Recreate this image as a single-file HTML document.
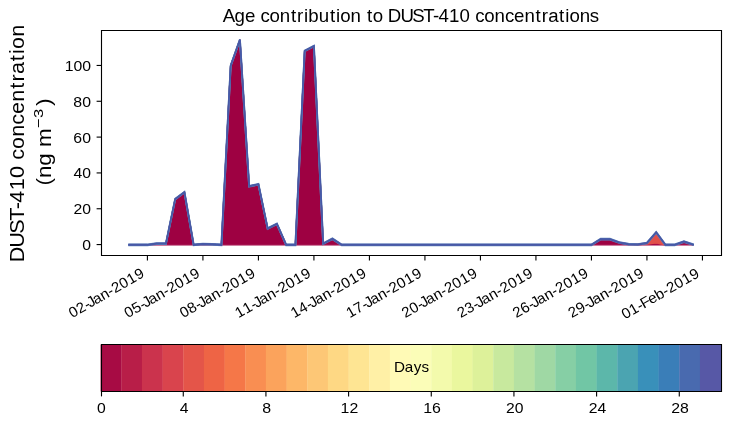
<!DOCTYPE html>
<html><head><meta charset="utf-8"><style>
html,body{margin:0;padding:0;background:#fff;}
body{width:730px;height:425px;overflow:hidden;position:relative;}
svg{position:absolute;left:0;top:0;will-change:transform;}
text{font-family:"Liberation Sans",sans-serif;fill:#000;}
</style></head><body>
<svg width="730" height="425" viewBox="0 0 730 425">
<rect width="730" height="425" fill="#fff"/>
<polygon points="128.91,244.87 138.16,244.87 147.41,244.87 156.66,243.62 165.91,243.62 175.17,199.20 184.42,192.21 193.67,244.87 202.92,243.97 212.17,244.33 221.42,244.87 230.67,65.76 239.92,39.79 249.17,186.30 258.42,184.33 267.67,228.57 276.92,223.91 286.17,244.87 295.42,244.87 304.67,50.89 313.92,46.06 323.17,243.71 332.42,238.78 341.67,244.87 350.92,244.87 360.17,244.87 369.42,244.87 378.67,244.87 387.92,244.87 397.17,244.87 406.43,244.87 415.68,244.87 424.93,244.87 434.18,244.87 443.43,244.87 452.68,244.87 461.93,244.87 471.18,244.87 480.43,244.87 489.68,244.87 498.93,244.87 508.18,244.87 517.43,244.87 526.68,244.87 535.93,244.87 545.18,244.87 554.43,244.87 563.68,244.87 572.93,244.87 582.18,244.87 591.43,244.87 600.68,239.14 609.93,239.14 619.18,242.54 628.43,244.15 637.69,244.51 646.94,243.97 656.19,243.26 665.44,244.87 674.69,244.87 683.94,241.65 693.19,244.87 693.19,244.87 683.94,244.87 674.69,244.87 665.44,244.87 656.19,244.87 646.94,244.87 637.69,244.87 628.43,244.87 619.18,244.87 609.93,244.87 600.68,244.87 591.43,244.87 582.18,244.87 572.93,244.87 563.68,244.87 554.43,244.87 545.18,244.87 535.93,244.87 526.68,244.87 517.43,244.87 508.18,244.87 498.93,244.87 489.68,244.87 480.43,244.87 471.18,244.87 461.93,244.87 452.68,244.87 443.43,244.87 434.18,244.87 424.93,244.87 415.68,244.87 406.43,244.87 397.17,244.87 387.92,244.87 378.67,244.87 369.42,244.87 360.17,244.87 350.92,244.87 341.67,244.87 332.42,244.87 323.17,244.87 313.92,244.87 304.67,244.87 295.42,244.87 286.17,244.87 276.92,244.87 267.67,244.87 258.42,244.87 249.17,244.87 239.92,244.87 230.67,244.87 221.42,244.87 212.17,244.87 202.92,244.87 193.67,244.87 184.42,244.87 175.17,244.87 165.91,244.87 156.66,244.87 147.41,244.87 138.16,244.87 128.91,244.87" fill="#9e0142" stroke="#9e0142" stroke-width="1.39"/>
<polygon points="128.91,244.87 138.16,244.87 147.41,244.87 156.66,243.62 165.91,243.62 175.17,199.20 184.42,192.21 193.67,244.87 202.92,243.97 212.17,244.33 221.42,244.87 230.67,65.76 239.92,39.79 249.17,186.30 258.42,184.33 267.67,228.57 276.92,223.91 286.17,244.87 295.42,244.87 304.67,50.89 313.92,46.06 323.17,243.71 332.42,238.78 341.67,244.87 350.92,244.87 360.17,244.87 369.42,244.87 378.67,244.87 387.92,244.87 397.17,244.87 406.43,244.87 415.68,244.87 424.93,244.87 434.18,244.87 443.43,244.87 452.68,244.87 461.93,244.87 471.18,244.87 480.43,244.87 489.68,244.87 498.93,244.87 508.18,244.87 517.43,244.87 526.68,244.87 535.93,244.87 545.18,244.87 554.43,244.87 563.68,244.87 572.93,244.87 582.18,244.87 591.43,244.87 600.68,239.14 609.93,239.14 619.18,242.54 628.43,244.15 637.69,244.51 646.94,243.97 656.19,242.72 665.44,244.87 674.69,244.87 683.94,241.65 693.19,244.87 693.19,244.87 683.94,241.65 674.69,244.87 665.44,244.87 656.19,243.26 646.94,243.97 637.69,244.51 628.43,244.15 619.18,242.54 609.93,239.14 600.68,239.14 591.43,244.87 582.18,244.87 572.93,244.87 563.68,244.87 554.43,244.87 545.18,244.87 535.93,244.87 526.68,244.87 517.43,244.87 508.18,244.87 498.93,244.87 489.68,244.87 480.43,244.87 471.18,244.87 461.93,244.87 452.68,244.87 443.43,244.87 434.18,244.87 424.93,244.87 415.68,244.87 406.43,244.87 397.17,244.87 387.92,244.87 378.67,244.87 369.42,244.87 360.17,244.87 350.92,244.87 341.67,244.87 332.42,238.78 323.17,243.71 313.92,46.06 304.67,50.89 295.42,244.87 286.17,244.87 276.92,223.91 267.67,228.57 258.42,184.33 249.17,186.30 239.92,39.79 230.67,65.76 221.42,244.87 212.17,244.33 202.92,243.97 193.67,244.87 184.42,192.21 175.17,199.20 165.91,243.62 156.66,243.62 147.41,244.87 138.16,244.87 128.91,244.87" fill="#c42b4b" stroke="#c42b4b" stroke-width="1.39"/>
<polygon points="128.91,244.87 138.16,244.87 147.41,244.87 156.66,243.62 165.91,243.62 175.17,199.20 184.42,192.21 193.67,244.87 202.92,243.97 212.17,244.33 221.42,244.87 230.67,65.76 239.92,39.79 249.17,186.30 258.42,184.33 267.67,228.57 276.92,223.91 286.17,244.87 295.42,244.87 304.67,50.89 313.92,46.06 323.17,243.71 332.42,238.78 341.67,244.87 350.92,244.87 360.17,244.87 369.42,244.87 378.67,244.87 387.92,244.87 397.17,244.87 406.43,244.87 415.68,244.87 424.93,244.87 434.18,244.87 443.43,244.87 452.68,244.87 461.93,244.87 471.18,244.87 480.43,244.87 489.68,244.87 498.93,244.87 508.18,244.87 517.43,244.87 526.68,244.87 535.93,244.87 545.18,244.87 554.43,244.87 563.68,244.87 572.93,244.87 582.18,244.87 591.43,244.87 600.68,239.14 609.93,239.14 619.18,242.54 628.43,244.15 637.69,244.51 646.94,243.08 656.19,232.33 665.44,244.87 674.69,244.87 683.94,241.65 693.19,244.87 693.19,244.87 683.94,241.65 674.69,244.87 665.44,244.87 656.19,242.72 646.94,243.97 637.69,244.51 628.43,244.15 619.18,242.54 609.93,239.14 600.68,239.14 591.43,244.87 582.18,244.87 572.93,244.87 563.68,244.87 554.43,244.87 545.18,244.87 535.93,244.87 526.68,244.87 517.43,244.87 508.18,244.87 498.93,244.87 489.68,244.87 480.43,244.87 471.18,244.87 461.93,244.87 452.68,244.87 443.43,244.87 434.18,244.87 424.93,244.87 415.68,244.87 406.43,244.87 397.17,244.87 387.92,244.87 378.67,244.87 369.42,244.87 360.17,244.87 350.92,244.87 341.67,244.87 332.42,238.78 323.17,243.71 313.92,46.06 304.67,50.89 295.42,244.87 286.17,244.87 276.92,223.91 267.67,228.57 258.42,184.33 249.17,186.30 239.92,39.79 230.67,65.76 221.42,244.87 212.17,244.33 202.92,243.97 193.67,244.87 184.42,192.21 175.17,199.20 165.91,243.62 156.66,243.62 147.41,244.87 138.16,244.87 128.91,244.87" fill="#e1504a" stroke="#e1504a" stroke-width="1.39"/>
<g fill="none" stroke="#5f86bd" stroke-width="1.9"><polyline transform="translate(0 -0.35)" points="128.31,244.87 138.16,244.87 147.41,244.87 156.66,243.62 165.91,243.62 175.17,199.20 184.42,192.21 193.67,244.87 202.92,243.97 212.17,244.33 221.42,244.87 230.67,65.76 239.92,39.79 249.17,186.30 258.42,184.33 267.67,228.57 276.92,223.91 286.17,244.87 295.42,244.87 304.67,50.89 313.92,46.06 323.17,243.71 332.42,238.78 341.67,244.87 350.92,244.87 360.17,244.87 369.42,244.87 378.67,244.87 387.92,244.87 397.17,244.87 406.43,244.87 415.68,244.87 424.93,244.87 434.18,244.87 443.43,244.87 452.68,244.87 461.93,244.87 471.18,244.87 480.43,244.87 489.68,244.87 498.93,244.87 508.18,244.87 517.43,244.87 526.68,244.87 535.93,244.87 545.18,244.87 554.43,244.87 563.68,244.87 572.93,244.87 582.18,244.87 591.43,244.87 600.68,239.14 609.93,239.14 619.18,242.54 628.43,244.15 637.69,244.51 646.94,243.08 656.19,232.33 665.44,244.87 674.69,244.87 683.94,241.65 693.79,244.87"/><polyline transform="translate(0 0.35)" points="128.31,244.87 138.16,244.87 147.41,244.87 156.66,243.62 165.91,243.62 175.17,199.20 184.42,192.21 193.67,244.87 202.92,243.97 212.17,244.33 221.42,244.87 230.67,65.76 239.92,39.79 249.17,186.30 258.42,184.33 267.67,228.57 276.92,223.91 286.17,244.87 295.42,244.87 304.67,50.89 313.92,46.06 323.17,243.71 332.42,238.78 341.67,244.87 350.92,244.87 360.17,244.87 369.42,244.87 378.67,244.87 387.92,244.87 397.17,244.87 406.43,244.87 415.68,244.87 424.93,244.87 434.18,244.87 443.43,244.87 452.68,244.87 461.93,244.87 471.18,244.87 480.43,244.87 489.68,244.87 498.93,244.87 508.18,244.87 517.43,244.87 526.68,244.87 535.93,244.87 545.18,244.87 554.43,244.87 563.68,244.87 572.93,244.87 582.18,244.87 591.43,244.87 600.68,239.14 609.93,239.14 619.18,242.54 628.43,244.15 637.69,244.51 646.94,243.08 656.19,232.33 665.44,244.87 674.69,244.87 683.94,241.65 693.79,244.87"/></g>
<g fill="none" stroke="#4858a6" stroke-width="1.3"><polyline transform="translate(0 -0.35)" points="128.31,244.87 138.16,244.87 147.41,244.87 156.66,243.62 165.91,243.62 175.17,199.20 184.42,192.21 193.67,244.87 202.92,243.97 212.17,244.33 221.42,244.87 230.67,65.76 239.92,39.79 249.17,186.30 258.42,184.33 267.67,228.57 276.92,223.91 286.17,244.87 295.42,244.87 304.67,50.89 313.92,46.06 323.17,243.71 332.42,238.78 341.67,244.87 350.92,244.87 360.17,244.87 369.42,244.87 378.67,244.87 387.92,244.87 397.17,244.87 406.43,244.87 415.68,244.87 424.93,244.87 434.18,244.87 443.43,244.87 452.68,244.87 461.93,244.87 471.18,244.87 480.43,244.87 489.68,244.87 498.93,244.87 508.18,244.87 517.43,244.87 526.68,244.87 535.93,244.87 545.18,244.87 554.43,244.87 563.68,244.87 572.93,244.87 582.18,244.87 591.43,244.87 600.68,239.14 609.93,239.14 619.18,242.54 628.43,244.15 637.69,244.51 646.94,243.08 656.19,232.33 665.44,244.87 674.69,244.87 683.94,241.65 693.79,244.87"/><polyline transform="translate(0 0.35)" points="128.31,244.87 138.16,244.87 147.41,244.87 156.66,243.62 165.91,243.62 175.17,199.20 184.42,192.21 193.67,244.87 202.92,243.97 212.17,244.33 221.42,244.87 230.67,65.76 239.92,39.79 249.17,186.30 258.42,184.33 267.67,228.57 276.92,223.91 286.17,244.87 295.42,244.87 304.67,50.89 313.92,46.06 323.17,243.71 332.42,238.78 341.67,244.87 350.92,244.87 360.17,244.87 369.42,244.87 378.67,244.87 387.92,244.87 397.17,244.87 406.43,244.87 415.68,244.87 424.93,244.87 434.18,244.87 443.43,244.87 452.68,244.87 461.93,244.87 471.18,244.87 480.43,244.87 489.68,244.87 498.93,244.87 508.18,244.87 517.43,244.87 526.68,244.87 535.93,244.87 545.18,244.87 554.43,244.87 563.68,244.87 572.93,244.87 582.18,244.87 591.43,244.87 600.68,239.14 609.93,239.14 619.18,242.54 628.43,244.15 637.69,244.51 646.94,243.08 656.19,232.33 665.44,244.87 674.69,244.87 683.94,241.65 693.79,244.87"/></g>
<path d="M101.5 30.5H721.5V255.5H101.5Z" stroke="#000" stroke-width="1.11" fill="none" stroke-linecap="square"/>
<line x1="96.6" y1="244.57" x2="101.5" y2="244.57" stroke="#000" stroke-width="1.11" fill="none"/>
<line x1="96.6" y1="208.75" x2="101.5" y2="208.75" stroke="#000" stroke-width="1.11" fill="none"/>
<line x1="96.6" y1="172.93" x2="101.5" y2="172.93" stroke="#000" stroke-width="1.11" fill="none"/>
<line x1="96.6" y1="137.10" x2="101.5" y2="137.10" stroke="#000" stroke-width="1.11" fill="none"/>
<line x1="96.6" y1="101.28" x2="101.5" y2="101.28" stroke="#000" stroke-width="1.11" fill="none"/>
<line x1="96.6" y1="65.46" x2="101.5" y2="65.46" stroke="#000" stroke-width="1.11" fill="none"/>
<line x1="147.41" y1="255.5" x2="147.41" y2="260.4" stroke="#000" stroke-width="1.11" fill="none"/>
<line x1="202.92" y1="255.5" x2="202.92" y2="260.4" stroke="#000" stroke-width="1.11" fill="none"/>
<line x1="258.42" y1="255.5" x2="258.42" y2="260.4" stroke="#000" stroke-width="1.11" fill="none"/>
<line x1="313.92" y1="255.5" x2="313.92" y2="260.4" stroke="#000" stroke-width="1.11" fill="none"/>
<line x1="369.42" y1="255.5" x2="369.42" y2="260.4" stroke="#000" stroke-width="1.11" fill="none"/>
<line x1="424.93" y1="255.5" x2="424.93" y2="260.4" stroke="#000" stroke-width="1.11" fill="none"/>
<line x1="480.43" y1="255.5" x2="480.43" y2="260.4" stroke="#000" stroke-width="1.11" fill="none"/>
<line x1="535.93" y1="255.5" x2="535.93" y2="260.4" stroke="#000" stroke-width="1.11" fill="none"/>
<line x1="591.43" y1="255.5" x2="591.43" y2="260.4" stroke="#000" stroke-width="1.11" fill="none"/>
<line x1="646.94" y1="255.5" x2="646.94" y2="260.4" stroke="#000" stroke-width="1.11" fill="none"/>
<line x1="702.44" y1="255.5" x2="702.44" y2="260.4" stroke="#000" stroke-width="1.11" fill="none"/>
<rect x="100.60" y="344.5" width="20.97" height="47" fill="#a70b44"/>
<rect x="121.27" y="344.5" width="20.97" height="47" fill="#b81e48"/>
<rect x="141.93" y="344.5" width="20.97" height="47" fill="#cb334d"/>
<rect x="162.60" y="344.5" width="20.97" height="47" fill="#d9444d"/>
<rect x="183.27" y="344.5" width="20.97" height="47" fill="#e45549"/>
<rect x="203.93" y="344.5" width="20.97" height="47" fill="#ee6445"/>
<rect x="224.60" y="344.5" width="20.97" height="47" fill="#f57748"/>
<rect x="245.27" y="344.5" width="20.97" height="47" fill="#f98e52"/>
<rect x="265.93" y="344.5" width="20.97" height="47" fill="#fba35c"/>
<rect x="286.60" y="344.5" width="20.97" height="47" fill="#fdb768"/>
<rect x="307.27" y="344.5" width="20.97" height="47" fill="#fdc776"/>
<rect x="327.93" y="344.5" width="20.97" height="47" fill="#fed884"/>
<rect x="348.60" y="344.5" width="20.97" height="47" fill="#fee593"/>
<rect x="369.27" y="344.5" width="20.97" height="47" fill="#fff0a6"/>
<rect x="389.93" y="344.5" width="20.97" height="47" fill="#fffab6"/>
<rect x="410.60" y="344.5" width="20.97" height="47" fill="#fbfdb8"/>
<rect x="431.27" y="344.5" width="20.97" height="47" fill="#f3faac"/>
<rect x="451.93" y="344.5" width="20.97" height="47" fill="#eaf79e"/>
<rect x="472.60" y="344.5" width="20.97" height="47" fill="#ddf19a"/>
<rect x="493.27" y="344.5" width="20.97" height="47" fill="#c8e99e"/>
<rect x="513.93" y="344.5" width="20.97" height="47" fill="#b5e1a2"/>
<rect x="534.60" y="344.5" width="20.97" height="47" fill="#9fd8a4"/>
<rect x="555.27" y="344.5" width="20.97" height="47" fill="#86cfa5"/>
<rect x="575.93" y="344.5" width="20.97" height="47" fill="#71c6a5"/>
<rect x="596.60" y="344.5" width="20.97" height="47" fill="#5cb7aa"/>
<rect x="617.27" y="344.5" width="20.97" height="47" fill="#4ba4b1"/>
<rect x="637.93" y="344.5" width="20.97" height="47" fill="#3990ba"/>
<rect x="658.60" y="344.5" width="20.97" height="47" fill="#3a7eb8"/>
<rect x="679.27" y="344.5" width="20.97" height="47" fill="#496aaf"/>
<rect x="699.93" y="344.5" width="21.57" height="47" fill="#5758a6"/>
<path d="M101.5 344.5H721.5V391.5H101.5Z" stroke="#000" stroke-width="1.11" fill="none" stroke-linecap="square"/>
<line x1="101.50" y1="391.5" x2="101.50" y2="396.4" stroke="#000" stroke-width="1.11" fill="none"/>
<line x1="183.27" y1="391.5" x2="183.27" y2="396.4" stroke="#000" stroke-width="1.11" fill="none"/>
<line x1="265.93" y1="391.5" x2="265.93" y2="396.4" stroke="#000" stroke-width="1.11" fill="none"/>
<line x1="348.60" y1="391.5" x2="348.60" y2="396.4" stroke="#000" stroke-width="1.11" fill="none"/>
<line x1="431.27" y1="391.5" x2="431.27" y2="396.4" stroke="#000" stroke-width="1.11" fill="none"/>
<line x1="513.93" y1="391.5" x2="513.93" y2="396.4" stroke="#000" stroke-width="1.11" fill="none"/>
<line x1="596.60" y1="391.5" x2="596.60" y2="396.4" stroke="#000" stroke-width="1.11" fill="none"/>
<line x1="679.27" y1="391.5" x2="679.27" y2="396.4" stroke="#000" stroke-width="1.11" fill="none"/>
<g transform="translate(223.17 22.17)"><text transform="scale(1.0570 1)" x="-0.51 10.82 20.63 30.42 35.26 43.87 53.63 64.13 69.97 76.38 80.59 90.52 101.02 106.78 110.80 120.56 130.47 136.03 141.43 151.17 155.81 167.70 178.95 189.26 198.63 203.70 213.69 223.68 233.59 238.43 247.04 256.80 266.58 275.25 285.06 295.56 301.40 307.47 317.79 323.55 327.58 337.33 346.93" y="0" font-size="17.67">Age contribution to DUST-410 concentrations</text></g>
<g transform="rotate(-30 106.77 293.74) translate(64.46 297.74)"><text transform="scale(1.0237 1)" x="0.18 8.73 17.03 20.50 26.62 35.10 43.40 48.41 56.96 65.57 74.24" y="0" font-size="14.72">02-Jan-2019</text></g>
<g transform="rotate(-30 162.27 293.74) translate(119.96 297.74)"><text transform="scale(1.0237 1)" x="0.18 8.73 17.03 20.50 26.62 35.10 43.40 48.41 56.96 65.57 74.24" y="0" font-size="14.72">05-Jan-2019</text></g>
<g transform="rotate(-30 217.72 293.77) translate(175.35 297.77)"><text transform="scale(1.0252 1)" x="0.17 8.77 17.12 20.58 26.69 35.17 43.46 48.46 56.99 65.59 74.25" y="0" font-size="14.72">08-Jan-2019</text></g>
<g transform="rotate(-30 273.17 293.80) translate(230.73 297.80)"><text transform="scale(1.0267 1)" x="0.23 8.87 17.21 20.67 26.77 35.23 43.51 48.50 57.02 65.61 74.25" y="0" font-size="14.72">11-Jan-2019</text></g>
<g transform="rotate(-30 328.73 293.77) translate(286.35 297.77)"><text transform="scale(1.0252 1)" x="0.23 8.83 17.12 20.58 26.69 35.17 43.46 48.46 56.99 65.59 74.25" y="0" font-size="14.72">14-Jan-2019</text></g>
<g transform="rotate(-30 384.23 293.77) translate(341.85 297.77)"><text transform="scale(1.0252 1)" x="0.23 8.83 17.12 20.58 26.69 35.17 43.46 48.46 56.99 65.59 74.25" y="0" font-size="14.72">17-Jan-2019</text></g>
<g transform="rotate(-30 439.78 293.74) translate(397.47 297.74)"><text transform="scale(1.0237 1)" x="0.18 8.73 17.03 20.50 26.62 35.10 43.40 48.41 56.96 65.57 74.24" y="0" font-size="14.72">20-Jan-2019</text></g>
<g transform="rotate(-30 495.29 293.74) translate(452.97 297.74)"><text transform="scale(1.0237 1)" x="0.18 8.73 17.03 20.50 26.62 35.10 43.40 48.41 56.96 65.57 74.24" y="0" font-size="14.72">23-Jan-2019</text></g>
<g transform="rotate(-30 550.73 293.77) translate(508.36 297.77)"><text transform="scale(1.0252 1)" x="0.17 8.77 17.12 20.58 26.69 35.17 43.46 48.46 56.99 65.59 74.25" y="0" font-size="14.72">26-Jan-2019</text></g>
<g transform="rotate(-30 606.24 293.77) translate(563.86 297.77)"><text transform="scale(1.0252 1)" x="0.17 8.77 17.12 20.58 26.69 35.17 43.46 48.46 56.99 65.59 74.25" y="0" font-size="14.72">29-Jan-2019</text></g>
<g transform="rotate(-30 660.66 294.40) translate(617.03 298.40)"><text transform="scale(1.0350 1)" x="0.13 8.65 16.93 21.11 29.12 37.15 45.44 50.38 58.83 67.34 75.92" y="0" font-size="14.72">01-Feb-2019</text></g>
<g transform="translate(82.23 250.07)"><text transform="scale(1.0687 1)" x="0.00" y="0" font-size="14.72">0</text></g>
<g transform="translate(73.48 214.25)"><text transform="scale(1.0687 1)" x="0.00 8.19" y="0" font-size="14.72">20</text></g>
<g transform="translate(73.48 178.43)"><text transform="scale(1.0687 1)" x="0.00 8.19" y="0" font-size="14.72">40</text></g>
<g transform="translate(73.35 142.61)"><text transform="scale(1.0763 1)" x="0.03 8.22" y="0" font-size="14.72">60</text></g>
<g transform="translate(73.35 106.78)"><text transform="scale(1.0763 1)" x="0.03 8.22" y="0" font-size="14.72">80</text></g>
<g transform="translate(64.60 70.96)"><text transform="scale(1.0738 1)" x="0.04 8.25 16.39" y="0" font-size="14.72">100</text></g>
<g transform="translate(97.02 412.62)"><text transform="scale(1.0687 1)" x="0.00" y="0" font-size="14.72">0</text></g>
<g transform="translate(179.69 412.62)"><text transform="scale(1.0687 1)" x="0.00" y="0" font-size="14.72">4</text></g>
<g transform="translate(262.30 412.62)"><text transform="scale(1.0839 1)" x="0.00" y="0" font-size="14.72">8</text></g>
<g transform="translate(340.59 412.62)"><text transform="scale(1.0763 1)" x="0.03 8.22" y="0" font-size="14.72">12</text></g>
<g transform="translate(423.19 412.62)"><text transform="scale(1.0839 1)" x="0.00 8.19" y="0" font-size="14.72">16</text></g>
<g transform="translate(505.98 412.62)"><text transform="scale(1.0687 1)" x="0.00 8.19" y="0" font-size="14.72">20</text></g>
<g transform="translate(588.65 412.62)"><text transform="scale(1.0687 1)" x="0.00 8.19" y="0" font-size="14.72">24</text></g>
<g transform="translate(671.25 412.62)"><text transform="scale(1.0763 1)" x="-0.03 8.16" y="0" font-size="14.72">28</text></g>
<g transform="translate(394.02 371.75)"><text transform="scale(1.0360 1)" x="-0.13 10.44 19.00 26.42" y="0" font-size="14.72">Days</text></g>
<g transform="translate(24.0 261.9) rotate(-90)"><text transform="scale(1.0459 1)" x="-0.33 13.65 27.01 39.24 50.41 56.59 68.43 80.20 91.91 97.75 108.04 119.64 131.21 141.51 153.10 165.47 172.43 179.69 191.88 198.73 203.65 215.25" y="0" font-size="20.61">DUST-410 concentration</text></g>
<g transform="translate(50.6 185.5) rotate(-90)"><text transform="scale(1.0866 1)" x="0.02 6.81 18.14 29.58 35.42" y="0" font-size="20.61">(ng m</text><text x="57.8" y="-7.4" font-size="13.57" textLength="18.8" lengthAdjust="spacingAndGlyphs">−3</text><text x="79.5" y="0" font-size="20.61" textLength="7.6" lengthAdjust="spacingAndGlyphs">)</text></g>
</svg>
</body></html>
